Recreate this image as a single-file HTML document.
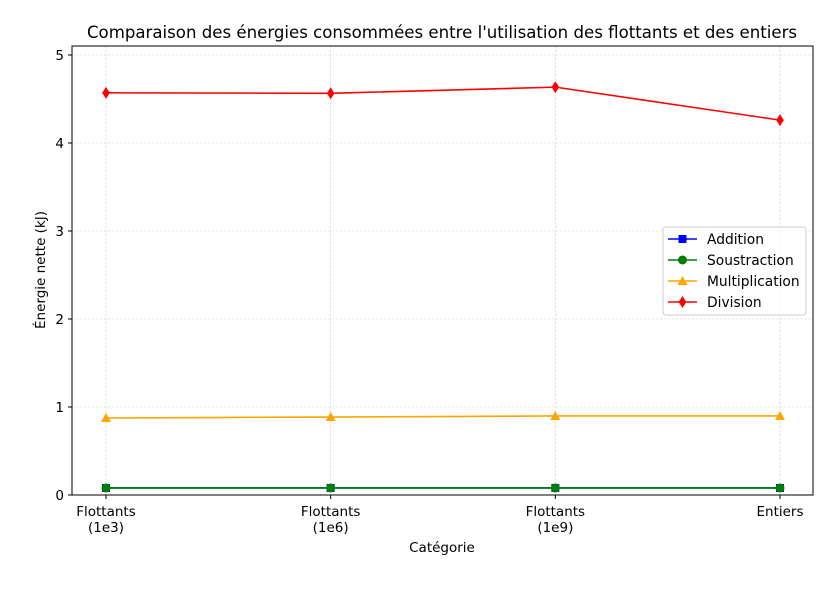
<!DOCTYPE html>
<html><head><meta charset="utf-8"><style>
body{margin:0;background:#fff;font-family:"Liberation Sans","DejaVu Sans",sans-serif;}
svg text{font-family:"DejaVu Sans","Liberation Sans",sans-serif;}
</style></head><body>
<svg id="chart" width="835" height="587" xmlns="http://www.w3.org/2000/svg">
<text x="442" y="38" text-anchor="middle" font-size="16.6" fill="#000">Comparaison des énergies consommées entre l'utilisation des flottants et des entiers</text>
<g id="grid"></g><g id="series"></g>
<rect x="72" y="46" width="741" height="449" fill="none" stroke="#000" stroke-width="1"/>
<g id="axes"></g>
<text x="442" y="552" text-anchor="middle" font-size="13.5">Catégorie</text>
<text transform="translate(45,270) rotate(-90)" text-anchor="middle" font-size="13.5">Énergie nette (kJ)</text>
<g id="legend"></g>
</svg>
<script>
const categories=["Flottants\n(1e3)","Flottants\n(1e6)","Flottants\n(1e9)","Entiers"];
const addition=[0.08,0.08,0.08,0.08];
const soustraction=[0.08,0.08,0.08,0.08];
const multiplication=[0.875,0.886,0.898,0.898];
const division=[4.57,4.565,4.635,4.26];
const yTicks=[0,1,2,3,4,5];
const NS="http://www.w3.org/2000/svg";
function xS(i){return 106+i*(780-106)/3;}
function yS(v){return 495-v*88;}
function mk(t,a,p){const e=document.createElementNS(NS,t);for(const k in a)e.setAttribute(k,a[k]);p.appendChild(e);return e;}
const grid=document.getElementById('grid'),axes=document.getElementById('axes'),ser=document.getElementById('series'),leg=document.getElementById('legend');
categories.forEach((c,i)=>{
 const g=mk('line',{x1:xS(i),x2:xS(i),y1:46,y2:495,stroke:'#d0d0d0','stroke-width':0.6,'stroke-dasharray':'2.5,1.5'},grid);
 
 
 mk('line',{x1:xS(i),x2:xS(i),y1:495,y2:499,stroke:'#000'},axes);
 const t=mk('text',{x:xS(i),'text-anchor':'middle','font-size':13.5},axes);
 
 
 c.split('\n').forEach((s,j)=>{const ts=mk('tspan',{x:xS(i),y:516+j*16},t);ts.textContent=s;});
});
yTicks.forEach(v=>{
 const g=mk('line',{x1:72,x2:813,y1:yS(v),y2:yS(v),stroke:'#d0d0d0','stroke-width':0.6,'stroke-dasharray':'2.5,1.5'},grid);
 
 
 mk('line',{x1:68,x2:72,y1:yS(v),y2:yS(v),stroke:'#000'},axes);
 const t=mk('text',{x:64,y:yS(v)+5,'text-anchor':'end','font-size':13.5},axes);
 
 
 t.textContent=v;
});
function marker(type,x,y,col,p){
 if(type==='s')return mk('rect',{x:x-4,y:y-4,width:8,height:8,fill:col},p);
 if(type==='o')return mk('circle',{cx:x,cy:y,r:4.5,fill:col},p);
 if(type==='^')return mk('polygon',{points:`${x},${y-5} ${x+5},${y+4} ${x-5},${y+4}`,fill:col},p);
 return mk('polygon',{points:`${x},${y-6} ${x+3.8},${y} ${x},${y+6} ${x-3.8},${y}`,fill:col},p);
}
const seriesList=[["Addition",addition,"#0000ff","s"],["Soustraction",soustraction,"#008000","o"],["Multiplication",multiplication,"#ffa500","^"],["Division",division,"#ff0000","d"]];
seriesList.forEach(([name,vals,col,m],k)=>{
 const g=mk('g',{},ser);
 
 
 mk('polyline',{points:vals.map((v,i)=>xS(i)+','+yS(v)).join(' '),fill:'none',stroke:col,'stroke-width':1.6},g);
 vals.forEach((v,i)=>{const p=marker(m,xS(i),yS(v),col,g);
  
  });
 const le=mk('g',{},leg);
 
 
 const y=239+k*21;
 mk('line',{x1:668,x2:697,y1:y,y2:y,stroke:col,'stroke-width':1.6},le);
 marker(m,682.5,y,col,le);
 const t=mk('text',{x:707,y:y+5,'font-size':13.8},le);t.textContent=name;
});
const box=mk('rect',{x:663,y:227,width:143,height:88,rx:3,fill:'#fff','fill-opacity':0.8,stroke:'#ccc'},leg);
leg.insertBefore(box,leg.firstChild);


</script>
</body></html>
